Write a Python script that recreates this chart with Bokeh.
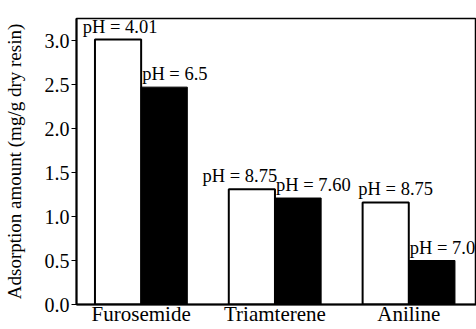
from bokeh.plotting import figure
from bokeh.models import ColumnDataSource, FixedTicker, Range1d, NumeralTickFormatter
from bokeh.core.properties import value
from bokeh.embed import file_html
from bokeh.resources import INLINE

compounds = ["Furosemide", "Triamterene", "Aniline"]
white_vals = [3.01, 1.31, 1.16]
black_vals = [2.47, 1.21, 0.50]
white_ph = ["pH = 4.01", "pH = 8.75", "pH = 8.75"]
black_ph = ["pH = 6.5", "pH = 7.60", "pH = 7.0"]
y_ticks = [0.0, 0.5, 1.0, 1.5, 2.0, 2.5, 3.0]

FONT = "Liberation Serif"
bw = 0.345
pos = list(range(len(compounds)))

p = figure(width=476, height=329, output_backend="svg", toolbar_location=None,
           x_range=Range1d(-0.483, 2.506), y_range=Range1d(0, 3.25),
           min_border_left=74, min_border_right=0, min_border_top=18, min_border_bottom=25)
p.xgrid.visible = False
p.ygrid.visible = False
p.outline_line_color = "black"
p.outline_line_width = 1.5

sw = ColumnDataSource(dict(x=[i - bw / 2 for i in pos], top=white_vals, lab=white_ph,
                           dx=[2, -12, 10]))
sb = ColumnDataSource(dict(x=[i + bw / 2 for i in pos], lx=pos, top=black_vals, lab=black_ph))
p.vbar(x="x", top="top", width=bw, source=sw, fill_color="white", line_color="black", line_width=2)
p.vbar(x="x", top="top", width=bw, source=sb, fill_color="black", line_color="black", line_width=1)

p.text(x="x", y="top", text="lab", source=sw, x_offset="dx", y_offset=-3,
       text_align="center", text_baseline="bottom",
       text_font=value(FONT), text_font_size="18.5px", text_color="black")
p.text(x="lx", y="top", text="lab", source=sb, x_offset=1, y_offset=-3,
       text_align="left", text_baseline="bottom",
       text_font=value(FONT), text_font_size="18.5px", text_color="black")

p.xaxis.ticker = FixedTicker(ticks=pos)
p.xaxis.major_label_overrides = {i: c for i, c in zip(pos, compounds)}
p.xaxis.major_tick_line_color = None
p.xaxis.major_tick_out = 0
p.xaxis.major_tick_in = 0
p.xaxis.minor_tick_line_color = None
p.xaxis.major_label_standoff = -3
p.xaxis.major_label_text_font = FONT
p.xaxis.major_label_text_font_size = "21px"
p.xaxis.major_label_text_line_height = 0.85
p.xaxis.major_label_text_color = "black"
p.xaxis.axis_line_width = 2

p.yaxis.ticker = FixedTicker(ticks=y_ticks)
p.yaxis.formatter = NumeralTickFormatter(format="0.0")
p.yaxis.minor_tick_line_color = None
p.yaxis.major_tick_in = 0
p.yaxis.major_tick_out = 5
p.yaxis.major_label_standoff = 2
p.yaxis.major_label_text_font = FONT
p.yaxis.major_label_text_font_size = "20px"
p.yaxis.major_label_text_color = "black"
p.yaxis.axis_line_width = 2
p.yaxis.axis_label = "Adsorption amount (mg/g dry resin)"
p.yaxis.axis_label_text_font = FONT
p.yaxis.axis_label_text_font_size = "19px"
p.yaxis.axis_label_text_font_style = "normal"
p.yaxis.axis_label_text_color = "black"
p.yaxis.axis_label_standoff = 17

open("out.html", "w").write(file_html(p, INLINE))
